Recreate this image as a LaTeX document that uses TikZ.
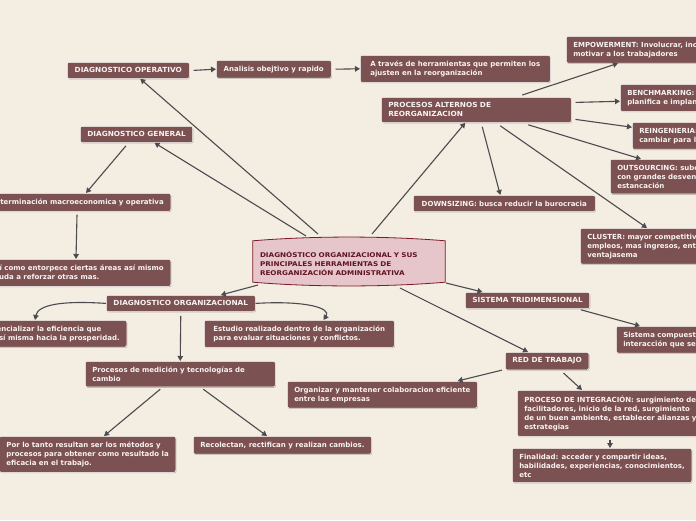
\documentclass[tikz,border=0pt]{standalone}
\usepackage{fontspec}
\setmainfont{DejaVu Sans}
\newfontfamily\capsf{DejaVu Sans}[FakeStretch=1.05]
\newfontfamily\centf{DejaVu Sans}[FakeStretch=1.11]
\usetikzlibrary{arrows.meta,shadows,backgrounds}
\definecolor{bgc}{HTML}{F3EDE2}
\definecolor{boxc}{HTML}{7B5151}
\definecolor{boxtext}{HTML}{FAF2F2}
\definecolor{cfill}{HTML}{E6C5CB}
\definecolor{cdraw}{HTML}{7D1928}
\definecolor{ctext}{HTML}{5F1423}
\definecolor{edgec}{HTML}{4B4B50}
\begin{document}
\begin{tikzpicture}[x=1pt,y=-1pt,
  box/.style={fill=boxc, draw=white, line width=0.5pt, rounded corners=2pt, text=boxtext,
    font=\bfseries\fontsize{7}{9}\selectfont, align=left, inner xsep=7pt, inner ysep=5.5pt,
    drop shadow={shadow xshift=0.6pt,shadow yshift=-0.8pt,fill=black,opacity=0.25}},
  capsbox/.style={box, font=\capsf\bfseries\fontsize{7}{9}\selectfont},
  arr/.style={draw=edgec, line width=1.1pt, -{Triangle[length=5pt,width=5.5pt]}},
]
\useasboundingbox (0,0) rectangle (696,520);
\begin{pgfonlayer}{background}
\fill[bgc] (0,0) rectangle (696,520);
\end{pgfonlayer}
\clip (0,0) rectangle (696,520);

% central
\node[font=\centf\bfseries\fontsize{6.5}{9}\selectfont, text=ctext, align=left, minimum width=192pt, minimum height=41pt, text width=178pt, inner sep=0pt] (c) at (349,263.5)
  {DIAGNÓSTICO ORGANIZACIONAL Y SUS\\PRINCIPALES HERRAMIENTAS DE\\REORGANIZACIÓN ADMINISTRATIVA};
\begin{pgfonlayer}{background}
\draw[fill=cfill, draw=cdraw, line width=0.8pt] ([shift={(0,-2)}]c.north west) .. controls +(60,-5) and +(-60,-5) .. ([shift={(0,-2)}]c.north east)
  -- ([shift={(0,-2)}]c.south east) .. controls +(-60,5) and +(60,5) .. ([shift={(0,-2)}]c.south west) -- cycle;
\end{pgfonlayer}

% left upper
\node[capsbox, minimum width=122pt, anchor=north west] (op) at (67,62) {DIAGNOSTICO OPERATIVO};
\node[box, minimum width=115pt, anchor=north west] (an) at (216,60) {Analisis obejtivo y rapido};
\node[box, minimum width=190pt, anchor=north west] (at) at (360,55) {A través de herramientas que permiten los\\ajusten en la reorganización};
\node[capsbox, minimum width=111pt, anchor=north west] (gen) at (80,126) {DIAGNOSTICO GENERAL};
\node[box, anchor=north east] (det) at (171,193) {Determinación macroeconomica y operativa};
\node[box, anchor=north east] (ent) at (171,259) {Así como entorpece ciertas áreas así mismo\\ayuda a reforzar otras mas.};

% procesos alternos
\node[capsbox, text width=176pt, anchor=north west] (proc) at (381,97) {PROCESOS ALTERNOS DE\\REORGANIZACION};
\node[box, anchor=north west] (emp) at (566,36) {EMPOWERMENT: Involucrar, incentivar y\\motivar a los trabajadores};
\node[box, anchor=north west] (bench) at (620,84) {BENCHMARKING: evalúa,\\planifica e implanta};
\node[box, anchor=north west] (reing) at (632,122) {REINGENIERIA: rediseñar y\\cambiar para lograr mejoras};
\node[box, anchor=north west] (outs) at (610,159) {OUTSOURCING: subcontratación\\con grandes desventajas y\\estancación};
\node[box, minimum width=182pt, anchor=north west] (down) at (413,195) {DOWNSIZING: busca reducir la burocracia};
\node[box, anchor=north west] (cl) at (580,228) {CLUSTER: mayor competitividad,\\empleos, mas ingresos, entre otras\\ventajasema};

% diagnostico organizacional
\node[capsbox, minimum width=149pt, anchor=north west] (dorg) at (106,295) {DIAGNOSTICO ORGANIZACIONAL};
\node[box, anchor=north east] (lft) at (127,320) {Potencializar la eficiencia que\\por sí misma hacia la prosperidad.};
\node[box, minimum width=190pt, anchor=north west] (est) at (204,320) {Estudio realizado dentro de la organización\\para evaluar situaciones y conflictos.};
\node[box, text width=176pt, anchor=north west] (pmed) at (85,361) {Procesos de medición y tecnologías de\\cambio};
\node[box, anchor=north east] (lot) at (176,436) {Por lo tanto resultan ser los métodos y\\procesos para obtener como resultado la\\eficacia en el trabajo.};
\node[box, minimum width=178pt, anchor=north west] (reco) at (193,436) {Recolectan, rectifican y realizan cambios.};

% right lower
\node[capsbox, minimum width=124pt, anchor=north west] (tri) at (465,292) {SISTEMA TRIDIMENSIONAL};
\node[box, anchor=north west] (sc) at (616,326) {Sistema compuesto por la\\interacción que se da entre};
\node[capsbox, minimum width=83pt, anchor=north west] (red) at (505,352) {RED DE TRABAJO};
\node[box, minimum width=190pt, anchor=north west] (org) at (287,381) {Organizar y mantener colaboracion eficiente\\entre las empresas};
\node[box, anchor=north west] (pint) at (517,390) {PROCESO DE INTEGRACIÓN: surgimiento de\\facilitadores, inicio de la red, surgimiento\\de un buen ambiente, establecer alianzas y\\estrategias};
\node[box, anchor=north west] (fin) at (512,448) {Finalidad: acceder y compartir ideas,\\habilidades, experiencias, conocimientos,\\etc};

% connectors
\draw[arr] ([shift={(-31,-29.5)}]c.center) -- ([xshift=12]op.south);
\draw[arr] ([shift={(-43,-27.5)}]c.center) -- ([xshift=18]gen.south);
\draw[arr] ([shift={(23,-29.5)}]c.center) -- ([xshift=-11]proc.south);
\draw[arr] ([shift={(-91,21.5)}]c.center) -- ([xshift=40]dorg.north);
\draw[arr] ([shift={(97,19.5)}]c.center) -- ([xshift=-45]tri.north);
\draw[arr] ([shift={(51,24.5)}]c.center) -- ([xshift=-19]red.north);

\draw[arr] ([xshift=4]op.east) -- (an.west);
\draw[arr] ([xshift=4]an.east) -- (at.west);

\draw[arr] ([shift={(46,-2)}]proc.north) -- ([xshift=52]emp.south west);
\draw[arr] ([shift={(4,-7.5)}]proc.east) -- ([shift={(0,3.5)}]bench.west);
\draw[arr] ([shift={(4,9.5)}]proc.east) -- ([shift={(0,-8.5)}]reing.west);
\draw[arr] ([shift={(52,2)}]proc.south) -- ([xshift=31]outs.north west);
\draw[arr] ([shift={(6,4)}]proc.south) -- ([xshift=-4]down.north);
\draw[arr] ([shift={(24,3)}]proc.south) -- ([xshift=67]cl.north west);

\draw[arr] ([shift={(-10.5,3)}]gen.south) -- ([xshift=-85]det.north east);
\draw[arr] ([shift={(-94,3)}]det.south east) -- ([xshift=-95]ent.north east);

\draw[arr] (dorg.west) .. controls +(-45,-3) and +(3,-15) .. ([xshift=-92]lft.north east);
\draw[arr] (dorg.east) .. controls +(50,-3) and +(8,-12) .. ([xshift=-71]est.north east);
\draw[arr] ([shift={(0,4)}]dorg.south) -- (pmed.north);
\draw[arr] ([shift={(-20,2)}]pmed.south) -- ([xshift=-72]lot.north east);
\draw[arr] ([shift={(23,2)}]pmed.south) -- ([xshift=74]reco.north west);

\draw[arr] ([shift={(-9,1)}]tri.south east) -- ([xshift=24]sc.north west);
\draw[arr] ([shift={(-3,0)}]red.south west) -- ([xshift=-20]org.north east);
\draw[arr] ([shift={(16.5,3)}]red.south) -- ([xshift=65]pint.north west);
\draw[arr] ([shift={(93,3)}]pint.south west) -- ([xshift=98]fin.north west);
\end{tikzpicture}
\end{document}
